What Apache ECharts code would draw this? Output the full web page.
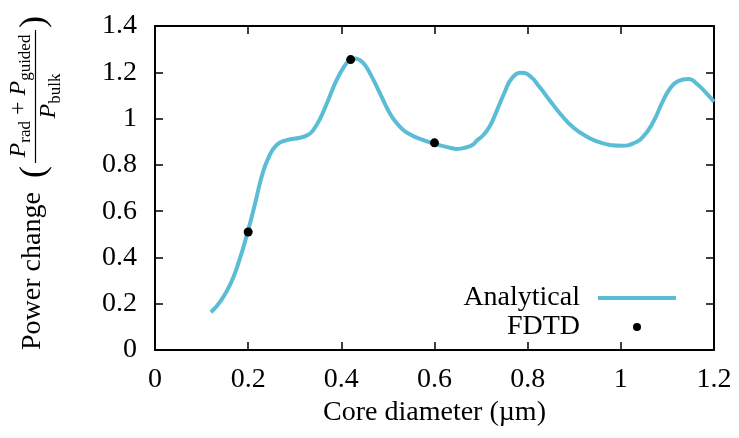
<!DOCTYPE html>
<html>
<head>
<meta charset="utf-8">
<script src="https://cdn.jsdelivr.net/npm/echarts@6/dist/echarts.min.js"></script>
<style>
html,body{margin:0;padding:0;background:#fff;}
#chart{width:739px;height:438px;}
</style>
</head>
<body>
<div id="chart"></div>
<script>
// Analytical curve: core diameter (µm) vs power change
const analyticalX = [0.120,0.140,0.161,0.179,0.199,0.215,0.229,0.243,0.261,0.283,0.311,0.329,0.340,0.354,0.369,0.390,0.408,0.419,0.429,0.440,0.451,0.463,0.476,0.490,0.504,0.518,0.533,0.549,0.565,0.597,0.633,0.648,0.669,0.683,0.690,0.705,0.719,0.733,0.751,0.766,0.787,0.805,0.826,0.848,0.869,0.898,0.927,0.962,1.002,1.027,1.048,1.070,1.088,1.106,1.123,1.145,1.166,1.184,1.200];
const analyticalY = [0.163,0.209,0.281,0.375,0.511,0.634,0.749,0.828,0.886,0.907,0.917,0.930,0.951,0.998,1.066,1.167,1.231,1.254,1.260,1.252,1.231,1.190,1.138,1.079,1.023,0.982,0.951,0.930,0.915,0.893,0.874,0.869,0.876,0.888,0.903,0.929,0.968,1.030,1.116,1.174,1.198,1.184,1.135,1.077,1.023,0.961,0.922,0.893,0.883,0.893,0.922,0.987,1.066,1.131,1.162,1.171,1.145,1.109,1.073];
// FDTD points
const fdtdX = [0.2, 0.42, 0.6];
const fdtdY = [0.51, 1.255, 0.895];
// Axis ticks
const xTicks = [0, 0.2, 0.4, 0.6, 0.8, 1, 1.2];
const yTicks = [0, 0.2, 0.4, 0.6, 0.8, 1, 1.2, 1.4];
const seriesNames = ['Analytical', 'FDTD'];

const FONT = '"Liberation Serif", "Times New Roman", serif';
const LINE_COLOR = '#5bbcd6';

const chart = echarts.init(document.getElementById('chart'), null, {renderer: 'canvas'});

const analyticalData = analyticalX.map((x, i) => [x, analyticalY[i]]);
const fdtdData = fdtdX.map((x, i) => [x, fdtdY[i]]);

const axisLineStyle = {color: '#000', width: 2};
const tickStyle = {show: true, inside: true, length: 8, lineStyle: {color: '#000', width: 1.5}};

const option = {
  animation: false,
  backgroundColor: '#fff',
  textStyle: {fontFamily: FONT},
  grid: {left: 155, right: 25, top: 26, bottom: 88, containLabel: false},
  xAxis: [{
    type: 'value', position: 'bottom',
    min: xTicks[0], max: xTicks[xTicks.length - 1], interval: 0.2,
    axisLine: {show: true, onZero: false, lineStyle: axisLineStyle},
    axisTick: tickStyle,
    splitLine: {show: false},
    axisLabel: {color: '#000', fontSize: 28, fontFamily: FONT, margin: 16,
      formatter: v => String(parseFloat(v.toFixed(1)))},
    name: 'Core diameter (µm)', nameLocation: 'middle', nameGap: 48,
    nameTextStyle: {color: '#000', fontSize: 28, fontFamily: FONT}
  }, {
    type: 'value', position: 'top',
    min: xTicks[0], max: xTicks[xTicks.length - 1], interval: 0.2,
    axisLine: {show: true, onZero: false, lineStyle: axisLineStyle},
    axisTick: tickStyle, axisLabel: {show: false}, splitLine: {show: false}
  }],
  yAxis: [{
    type: 'value', position: 'left',
    min: yTicks[0], max: yTicks[yTicks.length - 1], interval: 0.2,
    axisLine: {show: true, onZero: false, lineStyle: axisLineStyle},
    axisTick: tickStyle,
    splitLine: {show: false},
    axisLabel: {color: '#000', fontSize: 28, fontFamily: FONT, margin: 18,
      formatter: v => String(parseFloat(v.toFixed(1)))}
  }, {
    type: 'value', position: 'right',
    min: yTicks[0], max: yTicks[yTicks.length - 1], interval: 0.2,
    axisLine: {show: true, onZero: false, lineStyle: axisLineStyle},
    axisTick: tickStyle, axisLabel: {show: false}, splitLine: {show: false}
  }],
  legend: {
    orient: 'vertical', align: 'right',
    right: 61, top: 284, padding: 0, itemGap: 1,
    itemWidth: 78, itemHeight: 8,
    data: [
      {name: seriesNames[0], itemStyle: {color: 'rgba(0,0,0,0)', opacity: 0}},
      {name: seriesNames[1], itemStyle: {color: '#000'}}
    ],
    lineStyle: {width: 4},
    textStyle: {color: '#000', fontSize: 28, fontFamily: FONT, padding: [0, 13, 0, 0]}
  },
  graphic: [{
    type: 'group', x: 40, y: 184, rotation: Math.PI / 2,
    children: [
      {type: 'text', x: -166, y: -7,
        style: {text: 'Power change', fontSize: 28, fontFamily: FONT, fill: '#000', align: 'left', verticalAlign: 'middle'}},
      {type: 'text', x: 12, y: -5,
        style: {text: '(', fontSize: 36, fontFamily: FONT, fill: '#000', align: 'center', verticalAlign: 'middle'}},
      {type: 'text', x: 162, y: -5,
        style: {text: ')', fontSize: 36, fontFamily: FONT, fill: '#000', align: 'center', verticalAlign: 'middle'}},
      {type: 'line', shape: {x1: 21, y1: -4.5, x2: 154, y2: -4.5},
        style: {stroke: '#000', lineWidth: 1.2}},
      {type: 'text', x: 88, y: -6,
        style: {text: '{p|P}{s|rad}{o| + }{p|P}{s|guided}', fill: '#000', align: 'center', verticalAlign: 'bottom',
          rich: {
            p: {fontSize: 24, fontStyle: 'italic', fontFamily: FONT, verticalAlign: 'top'},
            o: {fontSize: 24, fontFamily: FONT, verticalAlign: 'top'},
            s: {fontSize: 17, fontFamily: FONT, verticalAlign: 'top', padding: [10, 0, 0, 0]}
          }}},
      {type: 'text', x: 88, y: -3,
        style: {text: '{p|P}{s|bulk}', fill: '#000', align: 'center', verticalAlign: 'top',
          rich: {
            p: {fontSize: 24, fontStyle: 'italic', fontFamily: FONT, verticalAlign: 'top'},
            s: {fontSize: 17, fontFamily: FONT, verticalAlign: 'top', padding: [10, 0, 0, 0]}
          }}}
    ]
  }],
  series: [{
    name: seriesNames[0], type: 'line', data: analyticalData,
    smooth: true, symbol: 'none', showSymbol: false,
    lineStyle: {color: LINE_COLOR, width: 4}, itemStyle: {color: LINE_COLOR},
    z: 2
  }, {
    name: seriesNames[1], type: 'scatter', data: fdtdData,
    symbol: 'circle', symbolSize: 9,
    itemStyle: {color: '#000', opacity: 1}, z: 3
  }]
};
chart.setOption(option);
</script>
</body>
</html>
